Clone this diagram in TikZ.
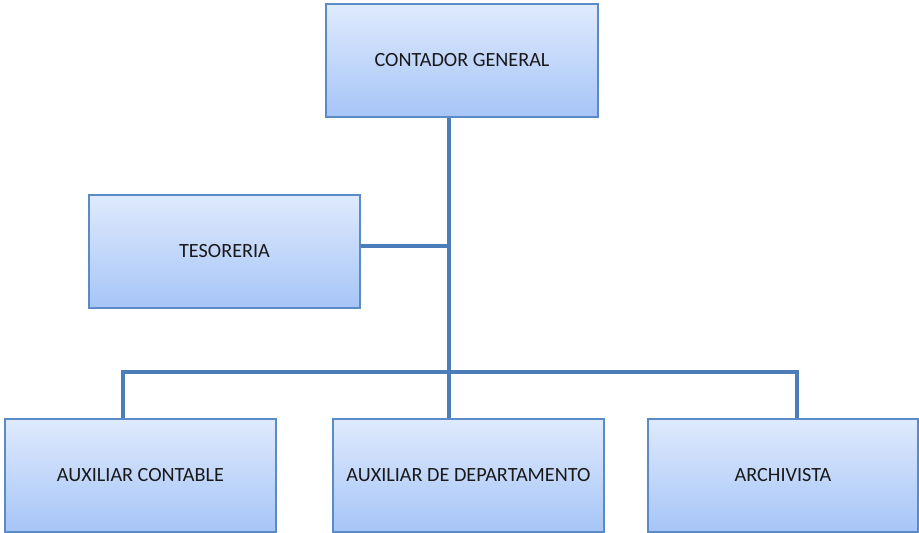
\documentclass[tikz,border=0pt]{standalone}
\usepackage{fontspec}
\setmainfont{Carlito}
\begin{document}
\begin{tikzpicture}[x=1pt,y=-1pt,
  orgbox/.style={draw=boxline, line width=2pt, top color=boxtop, bottom color=boxbot,
    minimum width=270pt, minimum height=113pt, inner sep=0pt, font=\fontsize{20.2}{23}\selectfont, text=black!90},
  link/.style={draw=linkcol, line width=4.5pt}]
\definecolor{boxline}{HTML}{5B8BC6}
\definecolor{boxtop}{HTML}{DFEAFD}
\definecolor{boxbot}{HTML}{A6C5F7}
\definecolor{linkcol}{HTML}{4C7DB9}
\useasboundingbox (0,0) rectangle (919,533);
\node[orgbox, minimum width=272pt] (cg) at (462,60) {CONTADOR GENERAL};
\node[orgbox, minimum width=271pt] (te) at (224.5,251) {TESORERIA};
\node[orgbox, minimum width=271pt] (ac) at (140.5,475) {AUXILIAR CONTABLE};
\node[orgbox, minimum width=271pt] (ad) at (468.5,475) {AUXILIAR DE DEPARTAMENTO};
\node[orgbox, minimum width=270pt] (ar) at (783,475) {ARCHIVISTA};
\coordinate (jt) at (449,246);
\coordinate (bl) at (123,372);
\coordinate (bm) at (449,372);
\coordinate (br) at (797,372);
\draw[link] (cg.south -| jt) -- (jt) -- (bm) -- (ad.north -| bm);
\draw[link] (te.east |- jt) -- (jt);
\draw[link, line join=miter] (ac.north -| bl) -- (bl) -- (br) -- (ar.north -| br);
\end{tikzpicture}
\end{document}
